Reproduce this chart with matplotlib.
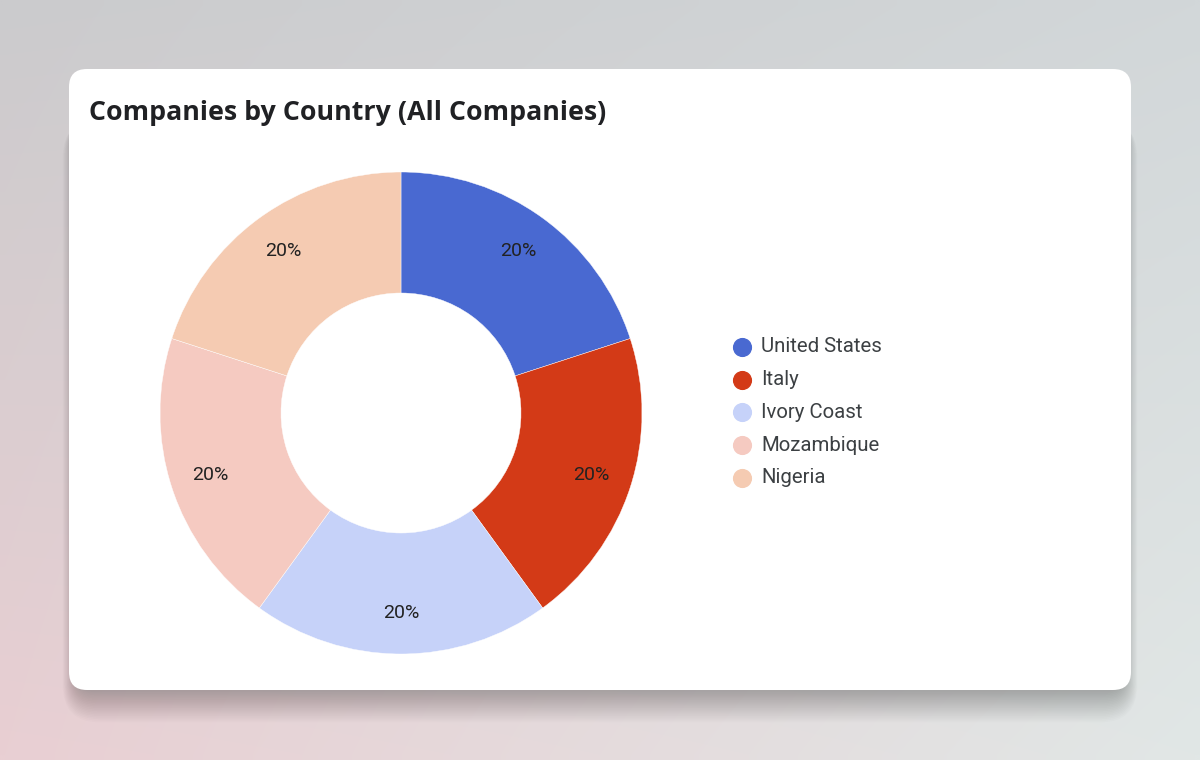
import numpy as np
import matplotlib
matplotlib.use("Agg")
from matplotlib import pyplot as plt
from matplotlib.patches import FancyBboxPatch
from matplotlib.colors import to_rgb

# data
countries = ['United States', 'Italy', 'Ivory Coast', 'Mozambique', 'Nigeria']
shares = [20, 20, 20, 20, 20]
colors = ['#4969d1', '#d33a17', '#c6d2f9', '#f5cac1', '#f5cbb2']
title = 'Companies by Country (All Companies)'

W, H = 1200, 760
fig = plt.figure(figsize=(W / 100, H / 100), dpi=100)

# background gradient
bg = fig.add_axes([0, 0, 1, 1])
bg.set_axis_off()
tl, tr = np.array(to_rgb('#cbcbcd')), np.array(to_rgb('#d2d7d9'))
bl, br = np.array(to_rgb('#e9cfd3')), np.array(to_rgb('#e1e7e6'))
u = np.linspace(0, 1, 120)[None, :, None]
v = np.linspace(0, 1, 76)[:, None, None]
img = (1 - v) * ((1 - u) * tl + u * tr) + v * ((1 - u) * bl + u * br)
bg.imshow(img, extent=[0, W, H, 0], aspect='auto', interpolation='bilinear')
bg.set_xlim(0, W)
bg.set_ylim(H, 0)

# soft shadow, mostly below the card
for i in range(20):
    sh = FancyBboxPatch((76 - i * 0.7, 120), 1048 + i * 1.4, 572 + i * 1.6,
                        boxstyle="round,pad=0,rounding_size=%d" % (18 + i),
                        fc='black', ec='none', alpha=0.012)
    bg.add_patch(sh)
card = FancyBboxPatch((69, 69), 1062, 621, boxstyle="round,pad=0,rounding_size=18",
                      fc='white', ec='none')
bg.add_patch(card)
bg.text(89, 113, title, fontsize=19.3, fontweight='bold', family='Open Sans',
        color='#202124', va='center', ha='left')

# donut
cx, cy, R = 401, H - 413, 241
ax = fig.add_axes([(cx - 250) / W, (cy - 250) / H, 500 / W, 500 / H])
ax.pie(shares, colors=colors, radius=R, startangle=90, counterclock=False,
       wedgeprops=dict(width=R - 120, edgecolor='white', linewidth=0.3),
       autopct='%d%%', pctdistance=200 / R,
       textprops=dict(fontsize=14, family='Roboto', color='#222222'))
ax.set_xlim(-250, 250)
ax.set_ylim(-250, 250)
ax.set_aspect('equal')
ax.set_axis_off()

# legend
for i, (name, col) in enumerate(zip(countries, colors)):
    y = 347 + i * 32.7
    bg.scatter([742], [y], s=np.pi * 10 ** 2 * 0.52, color=col, zorder=5)
    bg.text(761, y, name, fontsize=14.7, family='Roboto', color='#3c4043',
            va='center', ha='left')

fig.savefig('out.png', dpi=100)
